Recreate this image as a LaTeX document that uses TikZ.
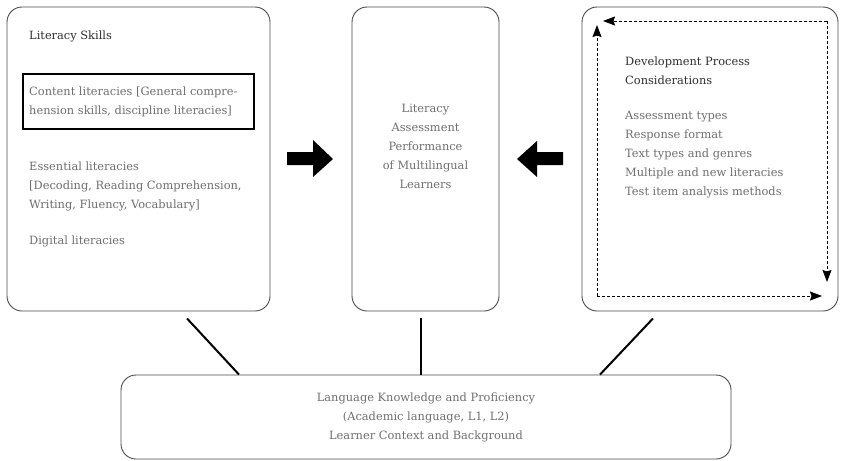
\documentclass[tikz,border=0pt]{standalone}
\usepackage{fontspec}
\setmainfont{DejaVu Serif}
\usetikzlibrary{arrows.meta}
\definecolor{boxline}{HTML}{4A4A4A}
\definecolor{bodygray}{HTML}{6E6E6E}
\definecolor{headgray}{HTML}{2E2E2E}

\begin{document}
\begin{tikzpicture}[x=1pt,y=-1pt,
            panel/.style = {draw=boxline,
                        line width=0.9pt,
                        rounded corners=15pt,
                        minimum width=#1,
                        minimum height=304pt,
                        inner sep=0pt},
            txt/.style = {text=bodygray,
                        font=\fontsize{11.4}{19}\selectfont,
                        inner sep=0pt},
            hdr/.style = {txt, text=headgray},
            link/.style = {line width=2pt},
            flow/.style = {densely dashed, line width=0.9pt,
                        -{Stealth[length=12pt,width=9pt,inset=1.5pt]}}]
            \useasboundingbox (0,0) rectangle (842,460);
            % Literacy skills
            \node[panel=263pt] (skills) at (138.5,159) {};
            \node[hdr,anchor=west] (skillstitle) at (29,36) {Literacy Skills};
            \node[draw=black,line width=2.2pt,minimum width=231pt,minimum height=55pt,
                inner sep=0pt] (content) at (138.5,101.5) {};
            \node[txt,anchor=west,align=left] (contenttext) at (29,102)
                {Content literacies [General compre-\\hension skills, discipline literacies]};
            \node[txt,anchor=west,align=left] (essential) at (29,186)
                {Essential literacies\\{[}Decoding, Reading Comprehension,\\Writing, Fluency, Vocabulary]};
            \node[txt,anchor=west] (digital) at (29,241) {Digital literacies};
            % Assessment performance
            \node[panel=147pt] (perf) at (425.5,159) {};
            \node[txt,align=center] (perftext) at (425.5,146)
                {Literacy\\Assessment\\Performance\\of Multilingual\\Learners};
            % Development process
            \node[panel=256pt] (dev) at (710,159) {};
            \node[hdr,anchor=west,align=left] (devtitle) at (625,71)
                {Development Process\\Considerations};
            \node[txt,anchor=west,align=left] (devlist) at (625,155)
                {Assessment types\\Response format\\Text types and genres\\Multiple and new literacies\\Test item analysis methods};
            % Dashed cycle
            \coordinate (ne) at (827,21);
            \coordinate (sw) at (597,296);
            \draw[flow] (ne) -- ([xshift=6pt]sw |- ne);
            \draw[flow] (sw) -- ([yshift=-4pt]sw |- ne);
            \draw[flow] (ne) -- ([yshift=14pt]ne |- sw);
            \draw[flow] (sw) -- ([xshift=-5pt]ne |- sw);
            % Bold arrows
            \fill (287,152) -- (313,152) -- (313,140) -- (333,159) -- (313,177) -- (313,165) -- (287,165) -- cycle;
            \fill (563,152) -- (537,152) -- (537,141) -- (517,159) -- (537,177) -- (537,165) -- (563,165) -- cycle;
            % Language knowledge
            \node[panel=610pt,minimum height=84pt,txt,align=center] (lang) at (426,417)
                {Language Knowledge and Proficiency\\(Academic language, L1, L2)\\Learner Context and Background};
            % Connectors
            \coordinate (s1) at ([xshift=48.5pt,yshift=-7pt]skills.south);
            \coordinate (s2) at ([xshift=-5pt,yshift=-7pt]perf.south);
            \coordinate (s3) at ([xshift=-57pt,yshift=-7pt]dev.south);
            \coordinate (l1) at ([xshift=-187pt]lang.north);
            \coordinate (l3) at ([xshift=174pt]lang.north);
            \draw[link] (s1) -- (l1);
            \draw[link] (s2) -- (s2 |- lang.north);
            \draw[link] (s3) -- (l3);
        \end{tikzpicture}
\end{document}
